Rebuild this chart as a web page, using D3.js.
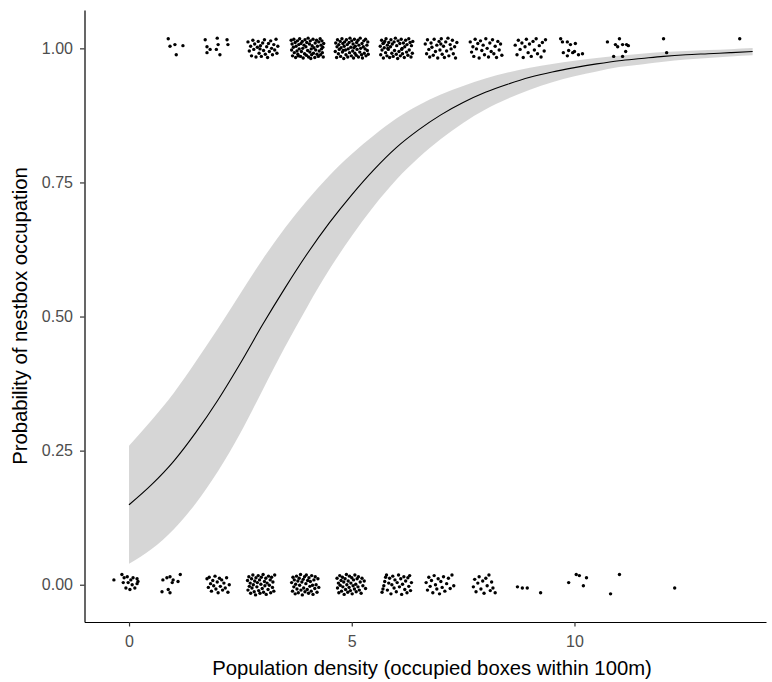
<!DOCTYPE html>
<html>
<head>
<meta charset="utf-8">
<script src="https://cdn.jsdelivr.net/npm/d3@7"></script>
<style>
  html, body { margin: 0; padding: 0; background: #ffffff; }
  svg { display: block; font-family: "Liberation Sans", Arial, sans-serif; }
</style>
</head>
<body>
<svg id="chart" width="772" height="682"></svg>
<script>
// ---------- DATA ----------
const xTicks = [0, 5, 10];
const yTicks = [0, 0.25, 0.5, 0.75, 1];
const xTitle = "Population density (occupied boxes within 100m)";
const yTitle = "Probability of nestbox occupation";

// fitted curve and confidence band
const fitX  = [0,0.5,1,1.5,2,2.5,3,3.5,4,4.5,5,5.5,6,6.5,7,7.5,8,8.5,9,9.5,10,10.5,11,11.5,12,12.5,13,13.5,14];
const fitP  = [.149,.186,.230,.284,.345,.413,.485,.553,.617,.675,.727,.774,.815,.848,.876,.899,.918,.933,.946,.956,.964,.971,.977,.981,.985,.988,.990,.992,.994];
const bandLo = [.039,.066,.103,.152,.212,.283,.363,.443,.518,.588,.650,.706,.755,.796,.831,.861,.886,.906,.923,.937,.948,.957,.965,.970,.975,.979,.982,.985,.987];
const bandHi = [.259,.306,.357,.416,.478,.543,.607,.665,.717,.763,.803,.838,.869,.894,.914,.930,.944,.955,.964,.971,.977,.982,.986,.990,.993,.995,.997,.9985,1.0005];

// jittered observations: [density, [dx (1/100 unit), dy (1/1000 unit), ...]]
const occupiedJitter = [ // observed value 1
  [1, [-12,18, 3,7, 21,5, 6,-12, -8,4]],
  [2, [-29,16,-25,3,-25,-8,-18,-2,-2,19,0,7,4,-12,20,16,22,7,-4,-2]],
  [3, [-33,12,-30,-5,-27,4,-25,-14,-22,15,-20,-2,-18,8,-15,-16,-12,2,-10,13,-8,-9,-5,5,-3,-15,0,10,2,-4,4,16,6,-11,9,3,11,-17,13,9,15,-6,18,14,20,0,22,-12,25,7,27,-3,30,17,32,-9,34,4,-6,-1]],
  [4, [-36,15,-35,-3,-34,8,-33,-14,-31,2,-30,17,-29,-8,-27,11,-26,-17,-25,4,-23,-5,-22,14,-21,-11,-19,7,-18,-1,-17,18,-15,-15,-14,9,-13,-6,-11,13,-10,0,-9,-18,-7,6,-6,-10,-5,16,-3,3,-2,-13,-1,11,1,-4,2,19,3,-16,5,8,6,-7,7,14,9,-1,10,-12,11,5,13,17,14,-9,15,1,17,-17,18,10,19,-3,21,15,22,-11,23,4,25,-15,26,12,27,-5,29,18,30,-12,31,6,32,-1,33,14,34,-8,35,2,36,-16,37,9,-20,-14,8,-19]],
  [5, [-37,-6,-36,10,-34,-17,-33,3,-32,16,-30,-10,-29,7,-28,-2,-26,13,-25,-15,-24,1,-22,18,-21,-7,-20,9,-18,-19,-17,4,-16,12,-14,-3,-13,-12,-12,16,-10,7,-9,-16,-8,-1,-6,11,-5,-8,-4,19,-2,2,-1,-14,0,14,2,-5,3,8,4,-18,6,17,7,-9,8,4,10,-13,11,11,12,-2,14,15,15,-16,16,6,18,-7,19,19,20,0,22,-12,23,9,24,-18,26,3,27,14,28,-9,30,-1,31,17,32,-14,34,6,35,-4,36,12,37,-11,-19,-4,5,1]],
  [6, [-36,4,-35,-12,-33,15,-32,-3,-30,9,-29,-18,-27,1,-26,13,-24,-8,-23,18,-21,-14,-20,6,-18,-2,-17,11,-15,-17,-13,3,-12,16,-10,-9,-9,8,-7,-15,-5,12,-4,-4,-2,19,0,-11,1,5,3,-19,4,14,6,-6,8,9,9,-14,11,17,13,0,14,-10,16,10,18,-17,19,3,21,15,23,-7,24,7,26,-13,28,18,29,-3,31,11,33,-16,34,5,36,-9,37,13,-19,0,12,-2,-28,10]],
  [7, [-35,8,-32,-10,-30,16,-27,-2,-25,-16,-22,10,-20,2,-17,-13,-15,17,-12,-6,-9,6,-7,-18,-4,13,-2,-3,1,18,3,-11,6,4,8,-17,11,12,13,-5,16,19,18,-14,21,7,23,-1,26,15,28,-10,31,3,33,-18,36,11,0,8]],
  [8, [-34,12,-31,-7,-28,3,-26,-15,-23,17,-20,-1,-17,9,-14,-18,-11,14,-8,-4,-5,6,-2,-12,1,18,4,0,7,-16,10,10,13,-6,16,16,19,-10,22,4,25,-17,28,13,31,-3,34,8,37,-13]],
  [9, [-33,6,-29,-12,-26,15,-22,-2,-18,10,-15,-17,-11,3,-8,17,-4,-8,-1,8,3,-15,7,13,10,-3,14,18,17,-10,21,5,25,-16,28,11,32,-5,35,16]],
  [10, [-31,18,-27,12,-16,12,-9,7,2,9,-25,-8,-16,-14,-4,-8,0,-6,9,-12,18,-10,-13,-4]],
  [11, [-26,12,-8,7,-3,3,1,18,8,7,17,7,21,5,15,-6,-12,-15,8,-15]],
  [12, [0,18,7,-8]],
  [14, [-29,18]]
];
const emptyJitter = [ // observed value 0
  [0, [-34,9,-16,19,-11,13,-4,15,4,9,9,13,18,11,20,6,-2,4,7,0,-7,-6,2,-9,13,-6,18,2,-13,4]],
  [1, [-24,9,-15,13,-8,15,-1,9,15,19,-3,4,-26,-13,-12,-9,-8,-15,10,6]],
  [2, [-25,11,-22,-5,-20,14,-17,2,-15,-12,-12,8,-10,-2,-7,16,-5,-8,-2,5,0,-15,3,12,5,-3,8,9,10,-10,13,3,16,-6,19,13,22,-14,25,0]],
  [3, [-34,8,-33,-10,-31,15,-30,-3,-28,3,-27,-16,-25,11,-24,-6,-22,18,-21,0,-19,-13,-18,7,-16,-19,-15,13,-13,-4,-12,4,-10,17,-9,-11,-7,9,-6,-16,-4,1,-3,14,-1,-7,1,19,2,-14,4,6,5,-2,7,12,8,-18,10,3,12,-9,13,16,15,-1,17,9,18,-15,20,14,22,-5,23,5,25,-12,27,18]],
  [4, [-35,4,-33,-12,-32,14,-30,-4,-29,9,-27,-17,-26,1,-24,16,-23,-8,-21,7,-20,-15,-18,12,-17,-1,-15,19,-14,-10,-12,5,-11,-19,-9,10,-8,-6,-6,15,-5,-13,-3,2,-2,18,0,-9,1,8,3,-16,4,13,6,-3,7,6,9,-12,10,17,12,-1,13,-18,15,9,17,-7,18,15,20,0,22,-14,24,11,26,-5]],
  [5, [-33,12,-32,-6,-30,3,-29,-15,-27,17,-26,-1,-24,8,-23,-12,-21,14,-20,-4,-18,5,-17,-18,-15,11,-14,-9,-12,19,-11,0,-9,-14,-8,7,-6,-5,-5,16,-3,-11,-2,3,0,13,1,-17,3,-2,4,9,6,-8,7,18,9,1,10,-13,12,11,14,-4,15,15,17,-10,19,5,21,-16,23,12,25,-2,28,7,31,-7]],
  [6, [-32,-14,-30,-8,-28,-2,-26,6,-24,14,-22,18,-20,-10,-17,3,-15,12,-12,-17,-10,0,-8,16,-5,-6,-3,9,0,-13,2,4,5,18,7,-4,10,11,12,-18,14,1,17,15,19,-9,21,7,24,-15,26,13,28,-3,30,17,32,-11,34,4]],
  [7, [-33,4,-30,-10,-27,14,-24,-3,-21,8,-18,-15,-15,17,-12,0,-9,-8,-6,11,-3,-17,0,6,3,-5,6,15,9,-12,13,2,17,12,21,-7,25,18,29,-2]],
  [8, [-27,-4,-24,10,-21,-13,-17,3,-14,15,-10,-8,-6,7,-3,-16,1,12,4,-2,8,18,11,-11,14,5,17,-6,22,-15]],
  [9, [-28,-4,-17,-6,-6,-6,24,-15]],
  [10, [-13,4,4,19,11,17,27,13,20,-2]],
  [11, [-19,-17,1,19]],
  [12, [25,-6]]
];

// ---------- CHART ----------
const svg = d3.select("#chart");
const panel = { left: 84.5, right: 766, top: 10, bottom: 622 };

const x = d3.scaleLinear().domain([-1.0, 14.3]).range([panel.left, panel.right]);
const y = d3.scaleLinear().domain([-0.0695, 1.0715]).range([panel.bottom, panel.top]);

const fitData = fitX.map((v, i) => ({ x: v, p: fitP[i], lo: bandLo[i], hi: bandHi[i] }));

// ribbon
svg.append("path")
  .datum(fitData)
  .attr("fill", "#999999")
  .attr("fill-opacity", 0.4)
  .attr("d", d3.area().curve(d3.curveMonotoneX)
    .x(d => x(d.x)).y0(d => y(d.lo)).y1(d => y(d.hi)));

// fitted line
svg.append("path")
  .datum(fitData)
  .attr("fill", "none")
  .attr("stroke", "#000")
  .attr("stroke-width", 1.1)
  .attr("d", d3.line().curve(d3.curveMonotoneX).x(d => x(d.x)).y(d => y(d.p)));

// points
function expand(groups, value) {
  const out = [];
  groups.forEach(([xc, offs]) => {
    for (let i = 0; i < offs.length; i += 2) {
      out.push({ x: xc + offs[i] / 100, y: value + offs[i + 1] / 1000 });
    }
  });
  return out;
}
const pts = expand(occupiedJitter, 1).concat(expand(emptyJitter, 0));
svg.append("g").selectAll("circle").data(pts).join("circle")
  .attr("cx", d => x(d.x)).attr("cy", d => y(d.y)).attr("r", 1.7).attr("fill", "#000");

// axes
const yAxis = d3.axisLeft(y).tickValues(yTicks).tickFormat(d3.format(".2f"))
  .tickSize(4.5).tickSizeOuter(0).tickPadding(7);
const gy = svg.append("g").attr("transform", `translate(${panel.left},0)`).call(yAxis);
const xAxis = d3.axisBottom(x).tickValues(xTicks).tickFormat(d3.format("d"))
  .tickSize(4.5).tickSizeOuter(0).tickPadding(9);
const gx = svg.append("g").attr("transform", `translate(0,${panel.bottom})`).call(xAxis);

[gx, gy].forEach(g => {
  g.select(".domain").attr("stroke", "#000").attr("stroke-width", 1.2);
  g.selectAll(".tick line").attr("stroke", "#333").attr("stroke-width", 1.2);
  g.selectAll(".tick text").attr("fill", "#4d4d4d")
    .style("font-size", "16px").style("font-family", '"Liberation Sans", Arial, sans-serif');
});

// titles
svg.append("text")
  .attr("x", 432).attr("y", 675)
  .attr("text-anchor", "middle")
  .style("font-size", "20.3px").attr("fill", "#000")
  .text(xTitle);
svg.append("text")
  .attr("transform", `translate(27,316) rotate(-90)`)
  .attr("text-anchor", "middle")
  .style("font-size", "20.3px").attr("fill", "#000")
  .text(yTitle);
</script>
</body>
</html>
